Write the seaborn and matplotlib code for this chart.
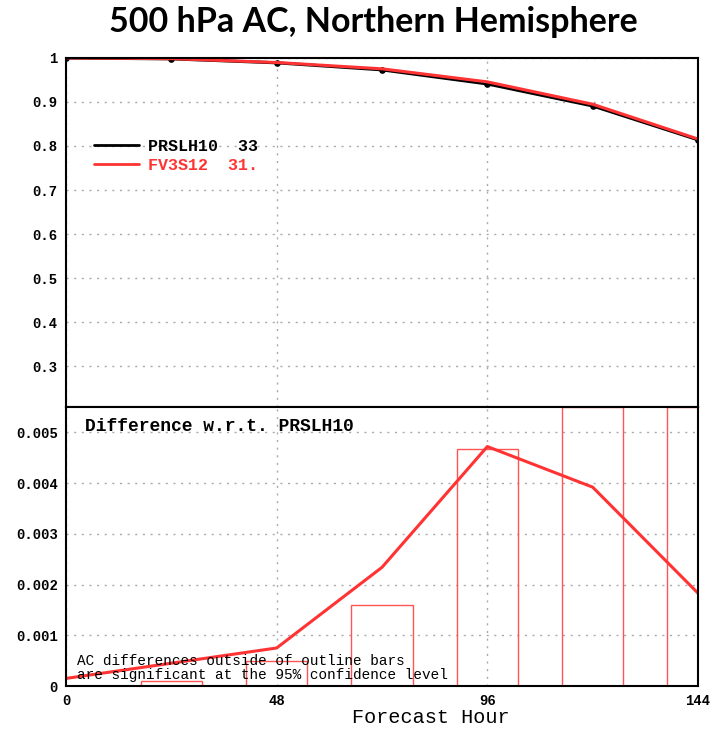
import numpy as np
import pandas as pd
import seaborn as sns
import matplotlib.pyplot as plt
from matplotlib.lines import Line2D

# Dados
horas = [0, 24, 48, 72, 96, 120, 144]
ac_prslh10 = [1.0, 0.998, 0.989, 0.973, 0.941, 0.891, 0.814]
dif_fv3s12 = [0.00015, 0.00045, 0.00075, 0.00234, 0.00472, 0.00392, 0.00183]
barras_sig = [0.0, 0.0001, 0.0005, 0.0016, 0.00467, 0.00549, 0.00549]
largura_barra = 14

ac_fv3s12 = [a + d for a, d in zip(ac_prslh10, dif_fv3s12)]
df = pd.DataFrame({'hora': horas, 'PRSLH10': ac_prslh10, 'FV3S12': ac_fv3s12,
                   'dif': dif_fv3s12, 'barra': barras_sig})

sns.set_style('white')
plt.rcParams['font.family'] = ['DejaVu Sans']
plt.rcParams['text.color'] = 'black'
plt.rcParams['xtick.color'] = 'black'
plt.rcParams['ytick.color'] = 'black'
mono = 'Liberation Mono'

fig = plt.figure(figsize=(7.14, 7.32), dpi=100)
ax1 = fig.add_axes([0.0924, 0.444, 0.8852, 0.4768])
ax2 = fig.add_axes([0.0924, 0.0628, 0.8852, 0.3812])

grade = dict(color='#aaaaaa', linestyle=(0, (1.5, 4)), linewidth=1)

# Painel superior: AC
sns.lineplot(data=df, x='hora', y='PRSLH10', ax=ax1, color='black', linewidth=2.2,
             marker='o', markersize=4, markeredgecolor='black')
sns.lineplot(data=df, x='hora', y='FV3S12', ax=ax1, color='#ff3333', linewidth=2.2)
ax1.set_xlim(0, 144)
ax1.set_ylim(0.207, 1.0)
ax1.set_xticks([0, 48, 96, 144])
ax1.set_xticklabels([])
ax1.set_yticks([0.3, 0.4, 0.5, 0.6, 0.7, 0.8, 0.9, 1.0])
ax1.set_yticklabels(['0.3', '0.4', '0.5', '0.6', '0.7', '0.8', '0.9', '1'])
ax1.grid(True, **grade)
ax1.set_xlabel('')
ax1.set_ylabel('')
ax1.tick_params(axis='both', length=0, pad=6)

handles = [Line2D([], [], color='black', linewidth=2),
           Line2D([], [], color='#ff3333', linewidth=2)]
leg = ax1.legend(handles, ['PRSLH10  33', 'FV3S12  31.'], loc='upper left',
                 bbox_to_anchor=(0.02, 0.81), frameon=False, handlelength=2.7,
                 handletextpad=0.55, labelspacing=0.2,
                 prop={'family': mono, 'weight': 'bold', 'size': 12},
                 labelcolor=['black', '#ff3333'])

# Painel inferior: diferenca
ax2.bar(df['hora'], df['barra'], width=largura_barra, fill=False,
        edgecolor='#ff5555', linewidth=1)
sns.lineplot(data=df, x='hora', y='dif', ax=ax2, color='#ff3333', linewidth=2.2)
ax2.set_xlim(0, 144)
ax2.set_ylim(0, 0.0055)
ax2.set_xticks([0, 48, 96, 144])
ax2.set_xticklabels(['0', '48', '96', '144'])
ax2.set_yticks([0, 0.001, 0.002, 0.003, 0.004, 0.005])
ax2.set_yticklabels(['0', '0.001', '0.002', '0.003', '0.004', '0.005'])
ax2.grid(True, **grade)
ax2.set_xlabel('')
ax2.set_ylabel('')
ax2.tick_params(axis='both', length=0, pad=6)

for ax in (ax1, ax2):
    for s in ax.spines.values():
        s.set_color('black')
        s.set_linewidth(1.5)
    for lab in ax.get_xticklabels() + ax.get_yticklabels():
        lab.set_fontfamily(mono)
        lab.set_fontweight('bold')
        lab.set_fontsize(10)

ax2.text(0.03, 0.93, 'Difference w.r.t. PRSLH10', transform=ax2.transAxes,
         fontfamily=mono, fontweight='bold', fontsize=13, va='center')
ax2.text(0.017, 0.065, 'AC differences outside of outline bars\nare significant at the 95% confidence level',
         transform=ax2.transAxes, fontfamily=mono, fontsize=10.4, va='center',
         linespacing=1.0)

fig.text(0.603, 0.012, 'Forecast Hour', fontfamily=mono, fontsize=14.5, ha='center')
fig.text(0.523, 0.97, '500 hPa AC, Northern Hemisphere', fontfamily='Lato',
         fontweight='bold', fontsize=24.5, ha='center', va='center')

fig.savefig('out.png', dpi=100)
